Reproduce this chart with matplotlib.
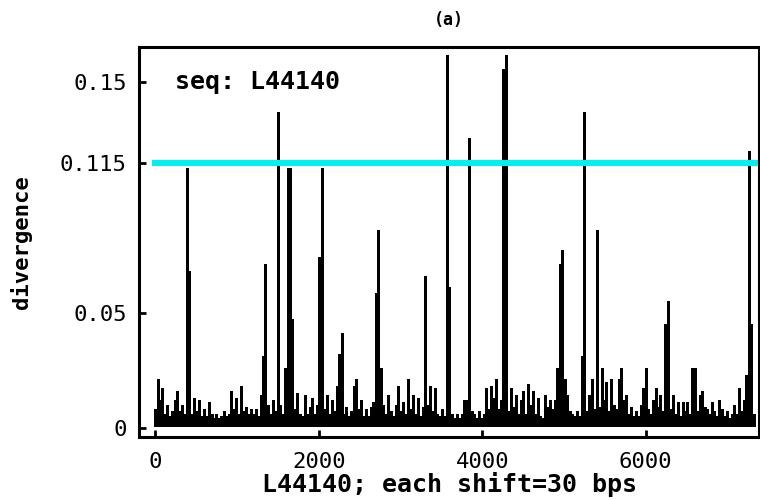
import numpy as np
import matplotlib
matplotlib.use("Agg")
import matplotlib.pyplot as plt

# L44140 is ~7300 shifts long, far more points than pixels, so the trace
# shows up as a solid band. Kept here as the top of that band per block of
# 30 shifts.
div_max = [
    0.008, 0.021, 0.012, 0.017, 0.006, 0.010, 0.005, 0.007, 0.012, 0.016,
    0.007, 0.010, 0.006, 0.113, 0.068, 0.006, 0.013, 0.007, 0.012, 0.005,
    0.008, 0.005, 0.011, 0.006, 0.004, 0.006, 0.004, 0.005, 0.007, 0.005,
    0.006, 0.016, 0.008, 0.013, 0.006, 0.018, 0.007, 0.009, 0.006, 0.008,
    0.006, 0.008, 0.005, 0.014, 0.031, 0.071, 0.010, 0.006, 0.012, 0.007,
    0.137, 0.010, 0.006, 0.026, 0.113, 0.113, 0.047, 0.008, 0.015, 0.006,
    0.005, 0.014, 0.006, 0.009, 0.013, 0.006, 0.010, 0.074, 0.113, 0.008,
    0.014, 0.006, 0.012, 0.007, 0.018, 0.032, 0.041, 0.006, 0.009, 0.005,
    0.007, 0.018, 0.021, 0.008, 0.012, 0.005, 0.008, 0.005, 0.009, 0.011,
    0.0585, 0.086, 0.026, 0.010, 0.006, 0.014, 0.007, 0.005, 0.010, 0.018,
    0.007, 0.011, 0.006, 0.021, 0.008, 0.014, 0.006, 0.013, 0.005, 0.009,
    0.066, 0.010, 0.018, 0.007, 0.017, 0.006, 0.005, 0.008, 0.005, 0.162,
    0.061, 0.006, 0.004, 0.006, 0.004, 0.006, 0.012, 0.012, 0.126, 0.007,
    0.006, 0.004, 0.007, 0.004, 0.006, 0.017, 0.008, 0.018, 0.013, 0.021,
    0.008, 0.012, 0.156, 0.162, 0.007, 0.017, 0.009, 0.014, 0.006, 0.012,
    0.016, 0.006, 0.019, 0.010, 0.016, 0.006, 0.013, 0.005, 0.004, 0.014,
    0.009, 0.012, 0.008, 0.012, 0.026, 0.071, 0.077, 0.021, 0.014, 0.007,
    0.006, 0.005, 0.007, 0.005, 0.031, 0.137, 0.007, 0.014, 0.021, 0.008,
    0.086, 0.009, 0.026, 0.012, 0.020, 0.007, 0.021, 0.010, 0.008, 0.021,
    0.026, 0.012, 0.014, 0.006, 0.009, 0.005, 0.007, 0.005, 0.010, 0.017,
    0.026, 0.008, 0.006, 0.012, 0.017, 0.009, 0.014, 0.007, 0.045, 0.055,
    0.008, 0.014, 0.006, 0.011, 0.005, 0.011, 0.007, 0.011, 0.006, 0.026,
    0.026, 0.007, 0.014, 0.016, 0.009, 0.008, 0.006, 0.011, 0.007, 0.005,
    0.012, 0.008, 0.005, 0.007, 0.004, 0.006, 0.010, 0.006, 0.017, 0.007,
    0.012, 0.023, 0.120, 0.045, 0.006,
]
div_floor = 0.0008   # bottom of the band
block = 30           # shifts per stored value
threshold = 0.115
yticks = [0, 0.05, 0.115, 0.15]
yticklabels = ["0", "0.05", "0.115", "0.15"]
xticks = [0, 2000, 4000, 6000]

pos = np.arange(len(div_max)) * block

fig = plt.figure(figsize=(7.6, 5.0), dpi=100)
ax = fig.add_axes([0.183, 0.126, 0.816, 0.780])

ax.vlines(pos, div_floor, div_max, color="black", lw=1.9, antialiased=False)
ax.plot([pos[0], pos[-1] + block], [threshold, threshold], color="#00f0f0",
        lw=3, antialiased=False)

ax.set_xlim(-196, 7388)
ax.set_ylim(-0.0041, 0.1654)

mono = "DejaVu Sans Mono"
ax.set_xticks(xticks)
ax.set_xticklabels([str(t) for t in xticks], family=mono, fontsize=16)
ax.set_yticks(yticks)
ax.set_yticklabels(yticklabels, family=mono, fontsize=16)
ax.tick_params(direction="in", length=5, width=2, top=False, right=False)
ax.tick_params(axis="x", pad=11)
ax.tick_params(axis="y", pad=9)
for s in ax.spines.values():
    s.set_linewidth(2.2)

ax.set_xlabel("L44140; each shift=30 bps", family=mono, fontsize=18,
              fontweight="bold", labelpad=0)
ax.set_ylabel("divergence", family=mono, fontsize=16, fontweight="bold",
              labelpad=20)
ax.set_title("(a)", family=mono, fontsize=12, fontweight="bold", pad=16)
ax.text(175, 500 - 82, "seq: L44140", transform=None, family=mono,
        fontsize=18, fontweight="bold", va="center", ha="left")

fig.savefig("out.png", dpi=100)
